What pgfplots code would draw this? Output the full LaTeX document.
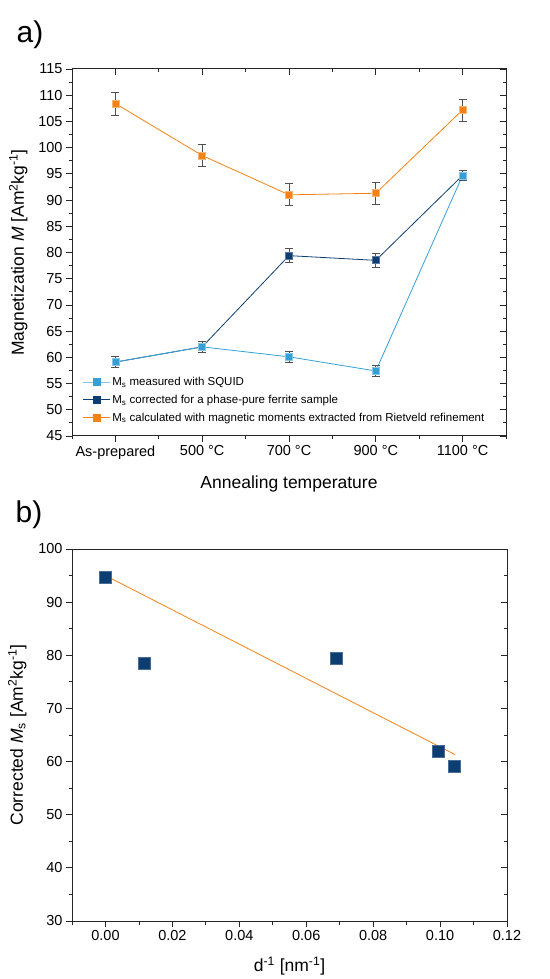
\documentclass[border=0pt]{standalone}
\usepackage{pgfplots}
\pgfplotsset{compat=1.18}
\usepackage{fontspec}
\setmainfont{Liberation Sans}
\definecolor{cOrange}{RGB}{244,130,20}
\definecolor{cLight}{RGB}{52,160,214}
\definecolor{cDark}{RGB}{12,62,114}
\definecolor{cErr}{RGB}{80,80,80}
\begin{document}
\begin{tikzpicture}
\path (0pt,0pt) rectangle (549pt,979pt);
\node[font=\fontsize{30}{32}\selectfont] at (30pt,944pt) {a)};
\node[font=\fontsize{30}{32}\selectfont] at (29pt,464pt) {b)};
\pgfplotsset{
  common/.style={
    scale only axis,
    /pgf/number format/assume math mode=true,
    axis line style={line width=1pt, black!85},
    major tick length=6pt, minor tick length=3.5pt,
    every tick/.style={black!85, line width=0.8pt},
    ticklabel style={font=\fontsize{14.5}{16}\selectfont},
    label style={font=\fontsize{17.5}{20}\selectfont},
  }
}
% ===== top panel =====
\begin{axis}[common,
  at={(72pt,543pt)}, anchor=south west, width=434pt, height=367pt,
  xmin=-0.5, xmax=4.5, ymin=45, ymax=115,
  xtick={0,1,2,3,4}, minor xtick={-0.5,0.5,1.5,2.5,3.5,4.5},
  xticklabels={As-prepared, 500 °C, 700 °C, 900 °C, 1100 °C},
  ytick={45,50,...,115}, minor ytick={47.5,52.5,...,112.5},
  tick align=outside, xtick pos=bottom, ytick pos=left,
  xlabel={Annealing temperature},
  ylabel={Magnetization \textit{M} [Am\textsuperscript{2}kg\textsuperscript{-1}]},
  xlabel style={at={(axis description cs:0.5,-0.131)}, anchor=center},
  ylabel style={at={(axis description cs:-0.124,0.5)}, anchor=center},
  legend style={at={(axis description cs:0.025,0.165)}, anchor=north west, draw=none, fill=none,
    font=\fontsize{11.5}{13}\selectfont, row sep=5pt, inner sep=0pt,
    nodes={inner sep=1.5pt}},
  legend cell align=left,
  legend image code/.code={%
    \draw[#1, mark repeat=2, mark phase=2] plot coordinates {(0pt,0pt) (13.5pt,0pt) (27pt,0pt)};},
  every axis plot/.append style={line width=0.8pt},
  error bars/error bar style={cErr, line width=0.7pt},
  error bars/error mark options={rotate=90, mark size=4pt, cErr, line width=0.7pt},
]
\addlegendimage{color=cLight!60, mark=square*, mark options={fill=cLight, draw=cLight, mark size=3.3pt}}
\addlegendentry{M\textsubscript{s} measured with SQUID}
\addlegendimage{color=cDark, mark=square*, mark options={fill=cDark, draw=cDark, mark size=3.3pt}}
\addlegendentry{M\textsubscript{s} corrected for a phase-pure ferrite sample}
\addlegendimage{color=cOrange, mark=square*, mark options={fill=cOrange, draw=cOrange, mark size=3.3pt}}
\addlegendentry{M\textsubscript{s} calculated with magnetic moments extracted from Rietveld refinement}
% corrected (dark)
\addplot[forget plot, color=cDark, mark=square*, mark size=3.5pt,
  mark options={fill=cDark, draw=cDark!70!white},
  error bars/.cd, y dir=both, y explicit]
  coordinates {(0,59.1) +- (0,1.0) (1,62.0) +- (0,1.0) (2,79.4) +- (0,1.3) (3,78.5) +- (0,1.3) (4,94.7) +- (0,1.0)};
% measured (light)
\addplot[forget plot, color=cLight, mark=square*, mark size=3.5pt,
  mark options={fill=cLight, draw=cLight!60!white},
  error bars/.cd, y dir=both, y explicit]
  coordinates {(0,59.1) +- (0,1.0) (1,62.0) +- (0,1.0) (2,60.1) +- (0,1.0) (3,57.4) +- (0,1.0) (4,94.7) +- (0,1.0)};
% calculated (orange)
\addplot[forget plot, color=cOrange, mark=square*, mark size=3.5pt,
  mark options={fill=cOrange, draw=cOrange!60!white},
  error bars/.cd, y dir=both, y explicit]
  coordinates {(0,108.4) +- (0,2.2) (1,98.5) +- (0,2.1) (2,91.0) +- (0,2.1) (3,91.3) +- (0,2.1) (4,107.2) +- (0,2.1)};
\end{axis}
% mirrored inner ticks, top panel
\begin{axis}[common,
  at={(72pt,543pt)}, anchor=south west, width=434pt, height=367pt,
  xmin=-0.5, xmax=4.5, ymin=45, ymax=115,
  xtick={0,1,2,3,4}, minor xtick={-0.5,0.5,1.5,2.5,3.5,4.5},
  ytick={45,50,...,115}, minor ytick={47.5,52.5,...,112.5},
  tick align=inside, xtick pos=top, ytick pos=right,
  xticklabels={}, yticklabels={}, axis line style={draw=none}]
\end{axis}
% ===== bottom panel =====
\begin{axis}[common,
  at={(72pt,58pt)}, anchor=south west, width=435pt, height=372pt,
  xmin=-0.01, xmax=0.12, ymin=30, ymax=100,
  xtick={0,0.02,...,0.121}, minor xtick={-0.01,0.01,0.03,0.05,0.07,0.09,0.11},
  ytick={30,40,...,100}, minor ytick={35,45,...,95},
  xticklabel style={/pgf/number format/.cd, fixed, fixed zerofill, precision=2},
  scaled x ticks=false,
  tick align=outside, xtick pos=bottom, ytick pos=left,
  xlabel={d\textsuperscript{-1} [nm\textsuperscript{-1}]},
  ylabel={Corrected \textit{M}\textsubscript{s} [Am\textsuperscript{2}kg\textsuperscript{-1}]},
  xlabel style={at={(axis description cs:0.5,-0.121)}, anchor=center},
  ylabel style={at={(axis description cs:-0.126,0.5)}, anchor=center},
]
\addplot[color=cOrange, line width=0.8pt, no marks] coordinates {(0,95.0) (0.1045,61.3)};
\addplot[only marks, mark=square*, mark size=6pt, mark options={fill=cDark, draw=cDark!75!white, line width=0.5pt}]
  coordinates {(0,94.7) (0.0117,78.5) (0.0689,79.4) (0.0996,62.0) (0.1043,59.1)};
\end{axis}
\begin{axis}[common,
  at={(72pt,58pt)}, anchor=south west, width=435pt, height=372pt,
  xmin=-0.01, xmax=0.12, ymin=30, ymax=100,
  xtick=\empty, ytick={30,40,...,100}, minor ytick={35,45,...,95},
  tick align=inside, ytick pos=right,
  yticklabels={}, axis line style={draw=none}]
\end{axis}
\end{tikzpicture}
\end{document}
